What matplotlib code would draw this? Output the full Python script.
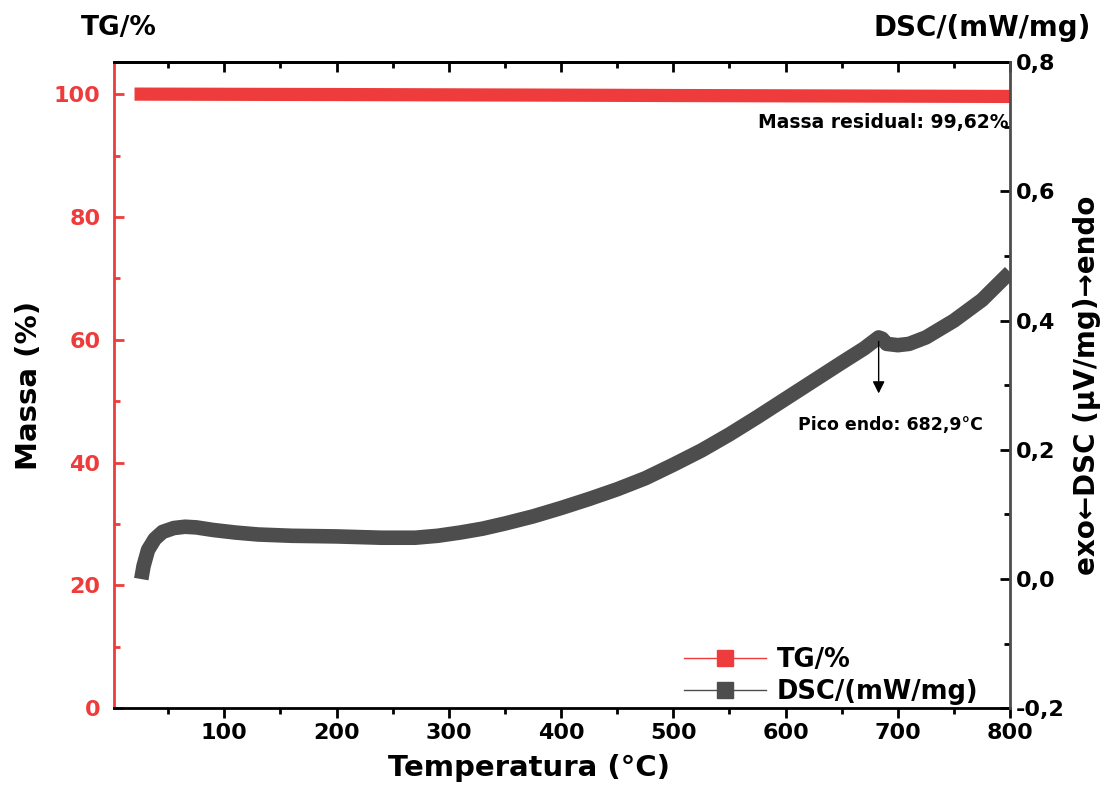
import matplotlib.pyplot as plt
from matplotlib.ticker import MultipleLocator, FuncFormatter
from matplotlib.lines import Line2D

# TG curve (mass %)
tg_temp = [20, 100, 200, 300, 400, 500, 600, 700, 800]
tg_mass = [100.0, 99.97, 99.93, 99.88, 99.83, 99.77, 99.72, 99.67, 99.62]

# DSC curve (mW/mg)
dsc_temp = [26, 28, 32, 38, 45, 55, 65, 75, 90, 110, 130, 160, 200, 240, 270,
            290, 310, 330, 350, 375, 400, 425, 450, 475, 500, 525, 550, 575,
            600, 625, 650, 670, 682.9, 686, 690, 700, 710, 725, 750, 775, 800]
dsc_val = [0.0, 0.02, 0.045, 0.062, 0.073, 0.079, 0.081, 0.080, 0.076, 0.072,
           0.069, 0.067, 0.066, 0.064, 0.064, 0.067, 0.072, 0.078, 0.086, 0.097,
           0.110, 0.124, 0.139, 0.156, 0.177, 0.199, 0.224, 0.251, 0.279, 0.307,
           0.335, 0.357, 0.374, 0.372, 0.364, 0.362, 0.364, 0.374, 0.400, 0.432,
           0.475]

red = "#ee3b3b"
grey = "#4d4d4d"

plt.rcParams["font.family"] = "DejaVu Sans"
plt.rcParams["font.weight"] = "bold"

fig, ax = plt.subplots(figsize=(11.1, 7.87), dpi=100)
fig.subplots_adjust(left=0.103, right=0.91, top=0.921, bottom=0.1)

ax.plot(tg_temp, tg_mass, color=red, lw=9.5, solid_capstyle="butt", zorder=3)
ax.set_xlim(2, 800)
ax.set_ylim(0, 105.2)
ax.set_xlabel("Temperatura (°C)", fontsize=21, fontweight="bold", labelpad=2)
ax.xaxis.set_label_coords(0.463, -0.07)
ax.set_ylabel("Massa (%)", fontsize=21, fontweight="bold", labelpad=8)

ax.xaxis.set_major_locator(MultipleLocator(100))
ax.xaxis.set_minor_locator(MultipleLocator(50))
ax.yaxis.set_major_locator(MultipleLocator(20))
ax.yaxis.set_minor_locator(MultipleLocator(10))
ax.set_xticks([100, 200, 300, 400, 500, 600, 700, 800])
ax.tick_params(axis="x", which="both", direction="out", top=False, labelsize=16, width=2)
ax.tick_params(axis="x", which="major", length=7)
ax.tick_params(axis="x", which="minor", length=4)
ax.tick_params(axis="y", which="both", direction="in", colors=red, labelsize=16, width=2)
ax.tick_params(axis="y", which="major", length=7, pad=10)
ax.tick_params(axis="y", which="minor", length=4)
for lab in ax.get_xticklabels() + ax.get_yticklabels():
    lab.set_fontweight("bold")

# top ticks pointing inward
secx = ax.secondary_xaxis("top")
secx.xaxis.set_major_locator(MultipleLocator(100))
secx.xaxis.set_minor_locator(MultipleLocator(50))
secx.tick_params(which="both", direction="in", labeltop=False, width=2)
secx.tick_params(which="major", length=7)
secx.tick_params(which="minor", length=4)
secx.spines["top"].set_linewidth(2)

ax.spines["left"].set_color(red)
ax.spines["left"].set_linewidth(2)
ax.spines["bottom"].set_linewidth(2)
ax.spines["top"].set_linewidth(2)
ax.spines["right"].set_visible(False)

ax2 = ax.twinx()
ax2.plot(dsc_temp, dsc_val, color=grey, lw=10.5, solid_capstyle="butt", zorder=3)
ax2.set_ylim(-0.2, 0.8)
ax2.yaxis.set_major_locator(MultipleLocator(0.2))
ax2.yaxis.set_minor_locator(MultipleLocator(0.1))
ax2.yaxis.set_major_formatter(FuncFormatter(lambda v, p: f"{v:.1f}".replace(".", ",")))
ax2.tick_params(axis="y", which="both", direction="in", labelsize=16, width=2, colors="black")
ax2.tick_params(axis="y", which="major", length=7, pad=4)
ax2.tick_params(axis="y", which="minor", length=4)
for lab in ax2.get_yticklabels():
    lab.set_fontweight("bold")
ax2.spines["right"].set_color(grey)
ax2.spines["right"].set_linewidth(2)
ax2.spines["left"].set_visible(False)
ax2.spines["top"].set_visible(False)
ax2.spines["bottom"].set_visible(False)
ax2.set_ylabel("exo←DSC (μV/mg)→endo", fontsize=20, fontweight="bold", labelpad=6)

ax.text(0.998, 0.906, "Massa residual: 99,62%", transform=ax.transAxes,
        ha="right", va="center", fontsize=13.5, fontweight="bold")
ax2.annotate("", xy=(682.9, 0.283), xytext=(682.9, 0.372),
             arrowprops=dict(arrowstyle="-|>", color="black", lw=1, mutation_scale=18))
ax2.text(693, 0.238, "Pico endo: 682,9°C", ha="center", va="center",
         fontsize=12.5, fontweight="bold")

fig.text(0.107, 0.965, "TG/%", ha="center", va="center", fontsize=19, fontweight="bold")
fig.text(0.885, 0.965, "DSC/(mW/mg)", ha="center", va="center", fontsize=20, fontweight="bold")

handles = [Line2D([], [], color=red, lw=1, marker="s", markersize=11),
           Line2D([], [], color=grey, lw=1, marker="s", markersize=11)]
ax2.legend(handles, ["TG/%", "DSC/(mW/mg)"], loc="lower right",
           bbox_to_anchor=(0.99, -0.03), frameon=False,
           prop={"size": 18.5, "weight": "bold"}, handlelength=3.2,
           handletextpad=0.4, labelspacing=0.2)

plt.savefig("out.png", dpi=100)
